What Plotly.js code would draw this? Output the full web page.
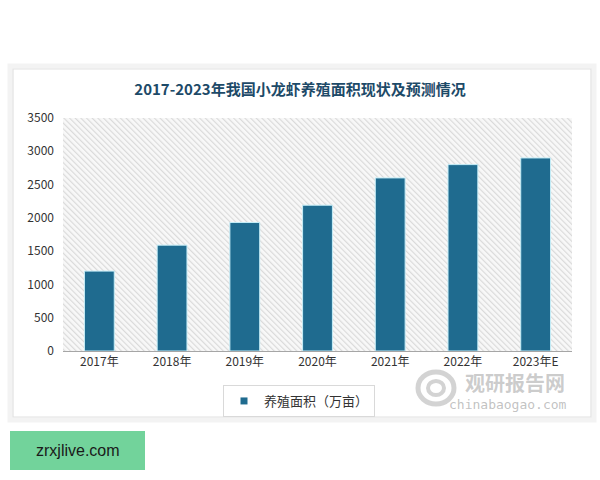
<!DOCTYPE html>
<html>
<head>
<meta charset="utf-8">
<script src="https://cdn.plot.ly/plotly-3.0.1.min.js"></script>
<style>html,body{margin:0;padding:0;background:#fff;}#chart{width:600px;height:480px;}</style>
</head>
<body>
<div id="chart"></div>
<script>
// ---- data ----
const categories = ["2017年", "2018年", "2019年", "2020年", "2021年", "2022年", "2023年E"];
const areaValues = [1200, 1590, 1930, 2190, 2600, 2800, 2900];
const seriesName = "养殖面积（万亩）";
const yTickValues = [0, 500, 1000, 1500, 2000, 2500, 3000, 3500];
const chartTitle = "2017-2023年我国小龙虾养殖面积现状及预测情况";

// ---- layout helpers (pixel -> paper) ----
const W = 600, H = 480;
const M = {l: 63, r: 28, t: 118, b: 129};
const PW = W - M.l - M.r, PH = H - M.t - M.b;
const px = x => (x - M.l) / PW;
const py = y => (H - M.b - y) / PH;

const hatchSvg = '<svg xmlns="http://www.w3.org/2000/svg" width="509" height="233">' +
  '<defs><pattern id="p" width="4" height="4" patternUnits="userSpaceOnUse" patternTransform="rotate(-45)">' +
  '<rect width="4" height="4" fill="#f8f8f8"/><rect width="1.2" height="4" fill="#dadada"/></pattern></defs>' +
  '<rect width="509" height="233" fill="url(#p)"/></svg>';
const hatchSrc = 'data:image/svg+xml;base64,' + btoa(hatchSvg);

const barColor = '#1f6b8f';

const traces = [
  {
    type: 'bar',
    x: categories,
    y: areaValues,
    name: seriesName,
    marker: {color: barColor, line: {color: '#c6eef8', width: 1}},
    width: 0.41,
    showlegend: false,
    hoverinfo: 'x+y'
  },
  {
    // legend entry with a small square key, as in the reference
    type: 'scatter',
    mode: 'markers',
    x: [null], y: [null],
    name: seriesName,
    marker: {symbol: 'square', size: 7, color: barColor},
    showlegend: true
  }
];

const layout = {
  width: W, height: H,
  margin: M,
  paper_bgcolor: '#ffffff',
  plot_bgcolor: 'rgba(0,0,0,0)',
  font: {family: '"Noto Sans CJK SC", "Noto Sans", sans-serif', color: '#404040', size: 12},
  title: {
    text: '<b>' + chartTitle + '</b>',
    font: {family: '"Noto Sans CJK SC", sans-serif', size: 15, color: '#1d4a68'},
    x: 0.5, xanchor: 'center', xref: 'container',
    y: 1 - 90 / H, yanchor: 'middle', yref: 'container'
  },
  xaxis: {
    type: 'category',
    showgrid: false, zeroline: false,
    showline: true, linecolor: '#a6a6a6', linewidth: 1,
    ticks: '', tickfont: {size: 12, color: '#333333'},
    fixedrange: true
  },
  yaxis: {
    range: [0, 3500],
    tickvals: yTickValues,
    showgrid: false, zeroline: false, showline: false,
    ticks: '', ticklabelstandoff: 8,
    tickfont: {size: 12, color: '#333333'},
    fixedrange: true
  },
  showlegend: true,
  legend: {
    orientation: 'h',
    x: px(299), xanchor: 'center',
    y: py(385), yanchor: 'top',
    bordercolor: '#d9d9d9', borderwidth: 1,
    bgcolor: '#ffffff',
    font: {size: 13, color: '#333333'},
    itemwidth: 30
  },
  images: [{
    source: hatchSrc, xref: 'paper', yref: 'paper',
    x: 0, y: 1, sizex: 1, sizey: 1, xanchor: 'left', yanchor: 'top',
    sizing: 'stretch', layer: 'below'
  }],
  shapes: [
    // card shadow
    {type: 'rect', xref: 'paper', yref: 'paper', x0: px(10), x1: px(594), y0: py(420), y1: py(66),
      line: {color: '#f3f3f3', width: 5}, fillcolor: 'rgba(0,0,0,0)', layer: 'below'},
    {type: 'rect', xref: 'paper', yref: 'paper', x0: px(13), x1: px(591), y0: py(417), y1: py(69),
      line: {color: '#e2e2e2', width: 1.2}, fillcolor: 'rgba(0,0,0,0)', layer: 'below'},
    // green tag box
    {type: 'rect', xref: 'paper', yref: 'paper', x0: px(10), x1: px(145), y0: py(470), y1: py(431),
      line: {width: 0}, fillcolor: '#72d39b', layer: 'above'},
    // watermark swirl
    {type: 'circle', xref: 'paper', yref: 'paper', x0: px(418), x1: px(454), y0: py(404), y1: py(372),
      line: {color: 'rgba(175,175,175,0.55)', width: 5}, fillcolor: 'rgba(0,0,0,0)', layer: 'above'},
    {type: 'circle', xref: 'paper', yref: 'paper', x0: px(428), x1: px(444), y0: py(395), y1: py(381),
      line: {color: 'rgba(175,175,175,0.55)', width: 4}, fillcolor: 'rgba(0,0,0,0)', layer: 'above'}
  ],
  annotations: [
    {text: 'zrxjlive.com', xref: 'paper', yref: 'paper', x: px(77.5), y: py(450.5),
      xanchor: 'center', yanchor: 'middle', showarrow: false,
      font: {family: '"Liberation Sans", Arial, sans-serif', size: 16, color: '#1a1a1a'}},
    {text: '<b>观研报告网</b>', xref: 'paper', yref: 'paper', x: px(515), y: py(382),
      xanchor: 'center', yanchor: 'middle', showarrow: false,
      font: {family: '"Noto Sans CJK SC", sans-serif', size: 20, color: 'rgba(170,170,170,0.6)'}},
    {text: 'chinabaogao.com', xref: 'paper', yref: 'paper', x: px(508), y: py(404),
      xanchor: 'center', yanchor: 'middle', showarrow: false,
      font: {family: '"DejaVu Sans Mono", monospace', size: 13, color: 'rgba(160,160,160,0.65)'}}
  ]
};

Plotly.newPlot('chart', traces, layout, {displayModeBar: false, staticPlot: true});
</script>
</body>
</html>
